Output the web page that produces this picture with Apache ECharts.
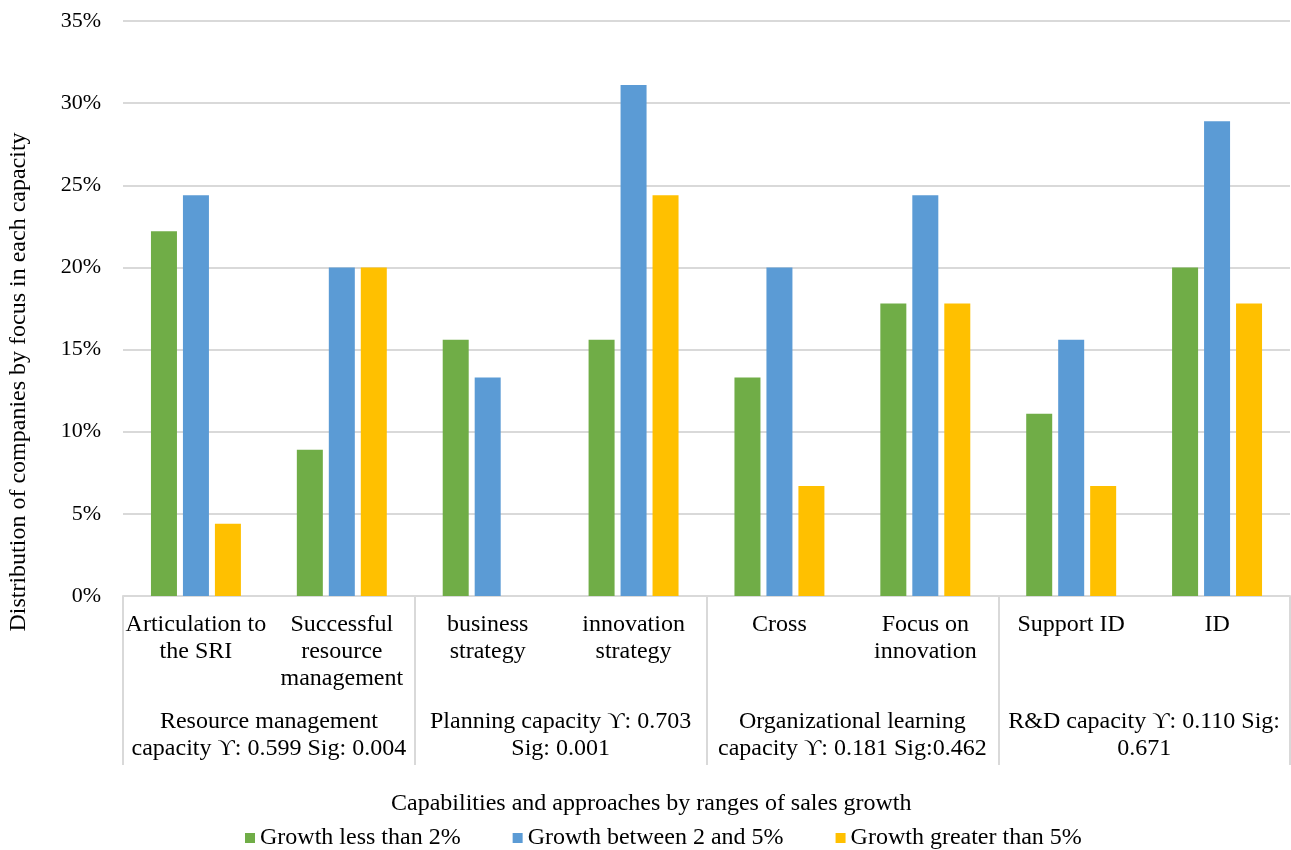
<!DOCTYPE html>
<html>
<head>
<meta charset="utf-8">
<title>Capabilities by ranges of sales growth</title>
<script src="https://cdn.jsdelivr.net/npm/echarts@6/dist/echarts.min.js"></script>
<style>
  html, body { margin: 0; padding: 0; background: #ffffff; }
  #chart { width: 1291px; height: 850px; }
</style>
</head>
<body>
<div id="chart"></div>
<script>
// Sub-categories (first axis level)
const categories = [
  'Articulation to\nthe SRI',
  'Successful\nresource\nmanagement',
  'business\nstrategy',
  'innovation\nstrategy',
  'Cross',
  'Focus on\ninnovation',
  'Support ID',
  'ID'
];

// Capacity groups (second axis level), two sub-categories each
const groups = [
  'Resource management\ncapacity \u03D2: 0.599 Sig: 0.004',
  'Planning capacity \u03D2: 0.703\nSig: 0.001',
  'Organizational learning\ncapacity \u03D2: 0.181 Sig:0.462',
  'R&D capacity \u03D2: 0.110 Sig:\n0.671'
];

const seriesNames = [
  'Growth less than 2%',
  'Growth between 2 and 5%',
  'Growth greater than 5%'
];

// Share of companies (%) per sub-category
const growthLow  = [22.2, 8.9, 15.6, 15.6, 13.3, 17.8, 11.1, 20.0];
const growthMid  = [24.4, 20.0, 13.3, 31.1, 20.0, 24.4, 15.6, 28.9];
const growthHigh = [4.4, 20.0, 0, 24.4, 6.7, 17.8, 6.7, 17.8];

const yTicks = { min: 0, max: 35, interval: 5 };

const colors = ['#70ad47', '#5b9bd5', '#ffc000'];
const FONT = '"Liberation Serif", "Times New Roman", serif';
const LINE = '#d9d9d9';

const chart = echarts.init(document.getElementById('chart'));

const mkSeries = (name, data, color) => ({
  name: name,
  type: 'bar',
  data: data,
  xAxisIndex: 0,
  barWidth: 26,
  barGap: '23%',
  itemStyle: { color: color },
  emphasis: { disabled: true }
});

chart.setOption({
  animation: false,
  textStyle: { fontFamily: FONT, color: '#000' },
  color: colors,
  grid: { left: 123, right: 1, top: 21, bottom: 254, containLabel: false },
  legend: {
    data: seriesNames,
    top: 826,
    left: 245,
    padding: 0,
    icon: 'rect',
    itemWidth: 10,
    itemHeight: 10,
    itemGap: 52,
    textStyle: { fontFamily: FONT, fontSize: 24, color: '#000', lineHeight: 24 }
  },
  xAxis: [
    {
      type: 'category',
      data: categories,
      position: 'bottom',
      axisLine: { lineStyle: { color: LINE, width: 2 } },
      axisTick: { show: false },
      axisLabel: {
        interval: 0,
        margin: 15,
        fontFamily: FONT,
        fontSize: 24,
        lineHeight: 27,
        color: '#000',
        verticalAlign: 'top'
      }
    },
    {
      type: 'category',
      data: groups,
      position: 'bottom',
      axisLine: { show: false },
      axisTick: { show: true, length: 169, lineStyle: { color: LINE, width: 2 } },
      axisLabel: {
        interval: 0,
        margin: 112,
        fontFamily: FONT,
        fontSize: 24,
        lineHeight: 27,
        color: '#000',
        verticalAlign: 'top'
      }
    }
  ],
  yAxis: {
    type: 'value',
    min: yTicks.min,
    max: yTicks.max,
    interval: yTicks.interval,
    axisLine: { show: false },
    axisTick: { show: false },
    splitLine: { lineStyle: { color: LINE, width: 2 } },
    axisLabel: {
      formatter: '{value}%',
      margin: 22,
      fontFamily: FONT,
      fontSize: 22,
      color: '#000'
    }
  },
  graphic: [
    {
      type: 'text',
      left: 391,
      top: 792,
      style: {
        text: 'Capabilities and approaches by ranges of sales growth',
        font: '24px ' + FONT,
        fill: '#000'
      }
    },
    {
      type: 'text',
      x: 7,
      y: 382,
      rotation: Math.PI / 2,
      style: {
        text: 'Distribution of companies by focus in each capacity',
        font: '24px ' + FONT,
        fill: '#000',
        align: 'center',
        verticalAlign: 'top'
      }
    }
  ],
  series: [
    mkSeries(seriesNames[0], growthLow, colors[0]),
    mkSeries(seriesNames[1], growthMid, colors[1]),
    mkSeries(seriesNames[2], growthHigh, colors[2])
  ]
});
</script>
</body>
</html>
